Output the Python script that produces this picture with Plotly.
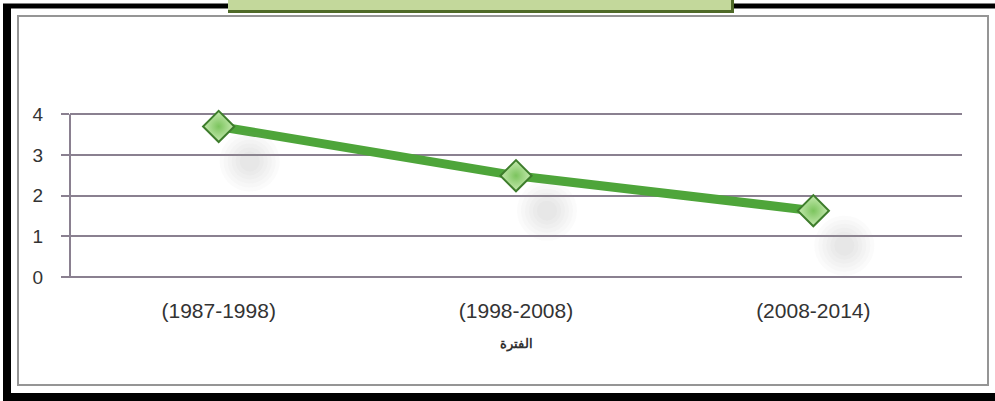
import plotly.graph_objects as go

# Periods and their values
periods = ["(1987-1998)", "(1998-2008)", "(2008-2014)"]
values = [3.70, 2.49, 1.63]
y_ticks = [0, 1, 2, 3, 4]
x_title = "الفترة"

W, H = 995, 401
L, R, T, B = 70, 33, 111, 124
PW, PH = W - L - R, H - T - B
Y_MAX = 4.08


def px(x):
    return (x - L) / PW


def py(y):
    return (H - B - y) / PH


grid = "#8a8090"
text_col = "#333333"

fig = go.Figure()

# soft drop shadow under each marker (overlay axes shifted a little right/down),
# built from a few stacked translucent discs
for size in [60, 52, 44, 36, 28, 20]:
    fig.add_trace(go.Scatter(
        x=periods, y=values, xaxis="x2", yaxis="y2", mode="markers",
        marker=dict(symbol="circle", size=size,
                    color="rgba(160,155,170,0.045)", line=dict(width=0)),
        hoverinfo="skip", showlegend=False, cliponaxis=False,
    ))

fig.add_trace(go.Scatter(
    x=periods, y=values, mode="lines+markers",
    line=dict(color="#4ea53a", width=9),
    marker=dict(symbol="diamond", size=24, color="#c6eab0",
                gradient=dict(type="radial", color="#7cc45e"),
                line=dict(color="#3e7d2c", width=2)),
    showlegend=False, cliponaxis=False,
))

dx = 31 / (PW / 3)
dy = 35 / (PH / Y_MAX)

fig.update_layout(
    width=W, height=H,
    margin=dict(l=L, r=R, t=T, b=B, pad=0),
    paper_bgcolor="white", plot_bgcolor="white",
    font=dict(family="Liberation Sans, Arial, sans-serif", color=text_col),
    xaxis=dict(
        type="category", range=[-0.5, 2.5], showgrid=False, zeroline=False,
        showline=False, ticks="", tickfont=dict(size=21, color=text_col),
        ticklabelstandoff=19,
        title=dict(text="<b>" + x_title + "</b>", font=dict(size=13, color=text_col),
                   standoff=17),
    ),
    yaxis=dict(
        range=[0, Y_MAX], tickvals=y_ticks, showgrid=True, gridcolor=grid, gridwidth=2,
        zeroline=False, showline=False,
        ticks="outside", ticklen=8, tickcolor=grid, tickwidth=2,
        tickfont=dict(size=19, color=text_col), ticklabelstandoff=14,
    ),
    xaxis2=dict(type="category", overlaying="x", range=[-0.5 - dx, 2.5 - dx],
                visible=False),
    yaxis2=dict(overlaying="y", range=[dy, Y_MAX + dy], visible=False),
    shapes=[
        # value axis line from 0 to 4
        dict(type="line", xref="paper", yref="y", x0=0, x1=0, y0=0, y1=y_ticks[-1],
             line=dict(color=grid, width=2), layer="below"),
        # baseline at zero
        dict(type="line", xref="paper", yref="paper", x0=px(62), x1=1, y0=0, y1=0,
             line=dict(color=grid, width=2), layer="below"),
        # inner chart frame
        dict(type="rect", xref="paper", yref="paper", x0=px(18), x1=px(988),
             y0=py(385), y1=py(16), line=dict(color="#959595", width=2), layer="below"),
        # outer black frame
        dict(type="line", xref="paper", yref="paper", x0=px(7), x1=px(7),
             y0=py(6), y1=py(401), line=dict(color="black", width=8)),
        dict(type="line", xref="paper", yref="paper", x0=px(3), x1=px(995),
             y0=py(397), y1=py(397), line=dict(color="black", width=8)),
        dict(type="line", xref="paper", yref="paper", x0=px(3), x1=px(995),
             y0=py(6), y1=py(6), line=dict(color="black", width=5)),
        # green title banner
        dict(type="rect", xref="paper", yref="paper", x0=px(228), x1=px(734),
             y0=py(13), y1=py(-5), fillcolor="#4f6a28", line=dict(width=0)),
        dict(type="rect", xref="paper", yref="paper", x0=px(228), x1=px(731),
             y0=py(10), y1=py(-5), fillcolor="#c3d89b", line=dict(width=0)),
    ],
)

fig.write_html("out.html")
